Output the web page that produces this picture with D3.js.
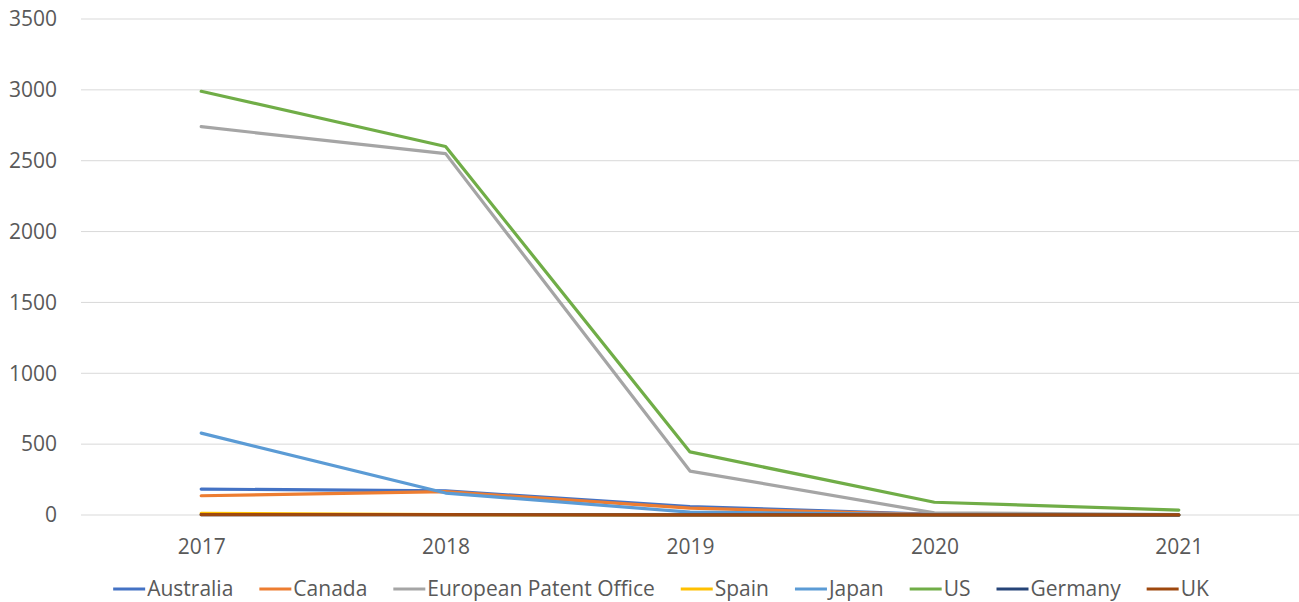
<!DOCTYPE html>
<html>
<head>
<meta charset="utf-8">
<script src="https://cdn.jsdelivr.net/npm/d3@7"></script>
<style>
  body { margin: 0; background: #fff; overflow: hidden; }
  text { font-family: "Open Sans", sans-serif; fill: #595959; }
</style>
</head>
<body>
<svg id="chart"></svg>
<script>
// years along the x axis
var years = ["2017", "2018", "2019", "2020", "2021"];

// one array per office
var australia = [183, 170, 60, 5, 0];
var canada = [136, 165, 48, 3, 0];
var epo = [2740, 2550, 310, 15, 3];
var spain = [12, 2, 0, 0, 0];
var japan = [578, 155, 20, 2, 0];
var us = [2990, 2600, 445, 90, 35];
var germany = [3, 2, 1, 0, 0];
var uk = [2, 2, 1, 1, 1];

var seriesNames = ["Australia", "Canada", "European Patent Office", "Spain", "Japan", "US", "Germany", "UK"];
var seriesValues = [australia, canada, epo, spain, japan, us, germany, uk];
var colors = ["#4472C4", "#ED7D31", "#A5A5A5", "#FFC000", "#5B9BD5", "#70AD47", "#264478", "#9E480E"];

var yTicks = [0, 500, 1000, 1500, 2000, 2500, 3000, 3500];

var W = 1299, H = 602;
var margin = { top: 19, right: -2, bottom: 87, left: 79 };
var width = W - margin.left - margin.right,
    height = H - margin.top - margin.bottom;

var svg = d3.select("#chart")
  .attr("width", W)
  .attr("height", H);

var g = svg.append("g")
  .attr("transform", "translate(" + margin.left + "," + margin.top + ")");

var x = d3.scalePoint()
  .domain(years)
  .range([0, width])
  .padding(0.5);

var y = d3.scaleLinear()
  .domain([0, 3500])
  .range([height, 0]);

// gridlines
g.selectAll(".grid")
  .data(yTicks)
  .enter().append("line")
  .attr("x1", 2)
  .attr("x2", width)
  .attr("y1", d => y(d))
  .attr("y2", d => y(d))
  .style("stroke", "#d9d9d9")
  .style("stroke-width", 1);

// y labels
var yAxis = g.append("g")
  .call(d3.axisLeft(y).tickValues(yTicks).tickFormat(d3.format("d")).tickSize(0).tickPadding(22));
yAxis.select(".domain").remove();
yAxis.selectAll("text")
  .style("font-size", "21px")
  .style("font-family", "'Open Sans', sans-serif")
  .attr("fill", "#595959");

// x labels
var xAxis = g.append("g")
  .attr("transform", "translate(0," + height + ")")
  .call(d3.axisBottom(x).tickSize(0).tickPadding(24));
xAxis.select(".domain").remove();
xAxis.selectAll("text")
  .style("font-size", "21px")
  .style("font-family", "'Open Sans', sans-serif")
  .attr("fill", "#595959");

// lines
var line = d3.line()
  .x((d, i) => x(years[i]))
  .y(d => y(d));

g.selectAll(".series")
  .data(seriesValues)
  .enter().append("path")
  .attr("d", line)
  .style("fill", "none")
  .style("stroke", (d, i) => colors[i])
  .style("stroke-width", 3.2)
  .style("stroke-linejoin", "round")
  .style("stroke-linecap", "round");

// legend, laid out left to right and centred
var legend = svg.append("g").attr("transform", "translate(0,589)");
var swatch = 32, gapText = 2, gapItem = 26;
var items = legend.selectAll(".item")
  .data(seriesNames)
  .enter().append("g");

items.append("line")
  .attr("x1", 0).attr("x2", swatch)
  .attr("y1", 0).attr("y2", 0)
  .style("stroke", (d, i) => colors[i])
  .style("stroke-width", 3.2);

items.append("text")
  .attr("x", swatch + gapText)
  .attr("dy", "0.35em")
  .style("font-size", "21px")
  .text(d => d);

var pos = 0, starts = [];
items.each(function() {
  starts.push(pos);
  var w = this.querySelector("text").getComputedTextLength();
  pos += swatch + gapText + w + gapItem;
});
var total = pos - gapItem;
var offset = 111 + (1100 - total) / 2;
items.attr("transform", (d, i) => "translate(" + (offset + starts[i]) + ",0)");
</script>
</body>
</html>
